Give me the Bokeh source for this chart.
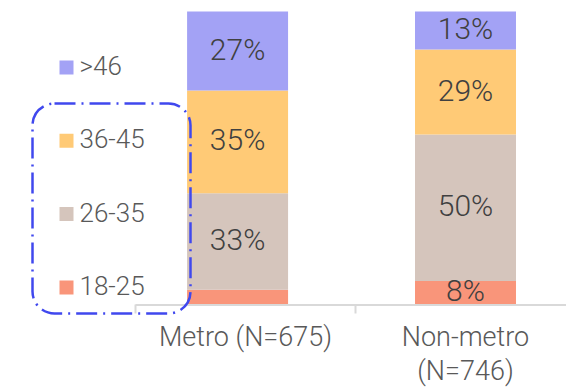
from bokeh.plotting import figure
from bokeh.models import ColumnDataSource, Range1d
from bokeh.embed import file_html
from bokeh.resources import INLINE
from bokeh.core.properties import value

# ---------------- data ----------------
categories = ["Metro (N=675)", "Non-metro\n(N=746)"]
age_groups = ["18-25", "26-35", "36-45", ">46"]
share_18_25 = [5, 8]
share_26_35 = [33, 50]
share_36_45 = [35, 29]
share_46_plus = [27, 13]
group_colors = ["#F9957A", "#D5C5BC", "#FFCA76", "#A3A2F5"]

# ---------------- layout constants (pixels) ----------------
W, H = 566, 387
PX_PER_CAT = 220.0      # width of one category slot
AXIS_LEFT_PX = 135.0    # where the category axis starts
BASE_PY = 304.0         # pixel row of the 0% baseline
PX_PER_PCT = 2.93       # pixels per percentage point
BAR_WIDTH = 0.459
BAR_SHIFT = [-0.036, 0.0]
FONT = value("Roboto Light")


def xd(px):
    return (px - AXIS_LEFT_PX) / PX_PER_CAT


def yd(py):
    return (BASE_PY - py) / PX_PER_PCT


p = figure(width=W, height=H,
           x_range=Range1d(xd(0), xd(W)), y_range=Range1d(yd(H), yd(0)),
           x_axis_type=None, y_axis_type=None,
           toolbar_location=None, output_backend="svg",
           min_border=0, outline_line_color=None)
p.background_fill_color = "white"
p.border_fill_color = "white"

# ---------------- stacked bars ----------------
series = [share_18_25, share_26_35, share_36_45, share_46_plus]
xs = [i + 0.5 + BAR_SHIFT[i] for i in range(len(categories))]
src = ColumnDataSource(dict(x=xs, **{g: s for g, s in zip(age_groups, series)}))
p.vbar_stack(age_groups, x="x", width=BAR_WIDTH, color=group_colors,
             line_color=None, source=src)

# ---------------- segment labels ----------------
lx, ly, lt = [], [], []
for i in range(len(categories)):
    bottom = 0
    for s in series:
        v = s[i]
        if v >= 6:
            lx.append(xs[i])
            ly.append(bottom + v / 2)
            lt.append(f"{v}%")
        bottom += v
p.text(x=lx, y=ly, text=lt, text_font=FONT, text_font_size="30px",
       text_align="center", text_baseline="middle", text_color="#404040",
       y_offset=-2)

# ---------------- axis baseline and boundary ticks ----------------
n = len(categories)
p.segment(x0=[0], x1=[n], y0=[yd(BASE_PY + 0.5)], y1=[yd(BASE_PY + 0.5)],
          line_color="#D9D9D9", line_width=2)
p.segment(x0=list(range(n + 1)), x1=list(range(n + 1)),
          y0=[yd(BASE_PY)] * (n + 1), y1=[yd(BASE_PY + 9)] * (n + 1),
          line_color="#D9D9D9", line_width=2)

# category labels
p.text(x=[i + 0.5 for i in range(n)], y=[yd(320)] * n, text=categories,
       text_font=FONT, text_font_size="27px", text_align="center",
       text_baseline="top", text_color="#595959", text_line_height=1.07)

# ---------------- legend (drawn manually) ----------------
order = list(range(len(age_groups)))[::-1]
leg_y = [yd(67 + k * 73.3) for k in range(len(order))]
p.scatter(x=[xd(66)] * len(order), y=leg_y, marker="square", size=14,
          color=[group_colors[j] for j in order], line_color=None)
p.text(x=[xd(79)] * len(order), y=leg_y, text=[age_groups[j] for j in order],
       text_font=FONT, text_font_size="26px", text_align="left",
       text_baseline="middle", text_color="#595959", y_offset=-2)

# ---------------- dash-dot highlight box ----------------
p.quad(left=[xd(32)], right=[xd(190)], top=[yd(103)], bottom=[yd(313)],
       border_radius=22, fill_color=None, line_color="#4048EE",
       line_width=2.5, line_dash="21 6 2 6")

open("out.html", "w").write(file_html(p, INLINE))
